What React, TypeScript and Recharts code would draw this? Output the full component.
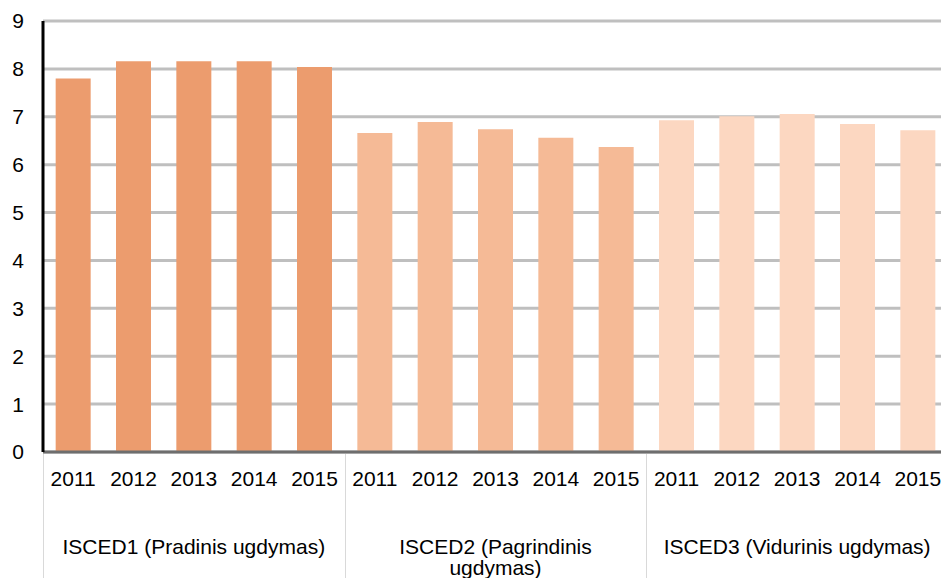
import { BarChart, Bar, XAxis, YAxis, CartesianGrid, Cell } from 'recharts';

const years = ['2011', '2012', '2013', '2014', '2015'];
const groups = ['ISCED1 (Pradinis ugdymas)', 'ISCED2 (Pagrindinis ugdymas)', 'ISCED3 (Vidurinis ugdymas)'];
const isced1 = [7.8, 8.16, 8.16, 8.16, 8.04];
const isced2 = [6.66, 6.89, 6.74, 6.56, 6.37];
const isced3 = [6.93, 7.01, 7.06, 6.85, 6.72];
const yTicks = [0, 1, 2, 3, 4, 5, 6, 7, 8, 9];
const groupColors = ['#EC9C6E', '#F5BA96', '#FCD7C1'];

const series = [isced1, isced2, isced3];
const data = groups.flatMap((g, gi) =>
  years.map((y, yi) => ({ year: y, group: g, gi, value: series[gi][yi] }))
);

const W = 948;
const H = 578;
const LEFT = 43;
const PLOT_W = W - LEFT;
const FONT = '"Liberation Sans", Arial, sans-serif';

// long labels break before the last word, like the original
const wrapLabel = (s: string) => {
  if (s.length <= 27) return [s];
  const i = s.lastIndexOf(' ');
  return [s.slice(0, i), s.slice(i + 1)];
};

const GroupTick = (props: any) => {
  const { x, y, payload } = props;
  const band = PLOT_W / groups.length;
  const sepX = Math.round(x - band / 2) + 0.5;
  const lines = wrapLabel(payload.value);
  return (
    <g>
      <line x1={sepX} x2={sepX} y1={y - 50} y2={H} stroke="#D9D9D9" strokeWidth={1} />
      <text x={x} y={y + 50} textAnchor="middle" fontSize={21} fill="#000" fontFamily={FONT}>
        {lines.map((l, i) => (
          <tspan key={i} x={x} dy={i === 0 ? 0 : 21}>
            {l}
          </tspan>
        ))}
      </text>
    </g>
  );
};

export default function App() {
  return (
    <div style={{ position: 'absolute', left: 0, top: 0, width: 941, height: H, overflow: 'hidden', background: '#fff' }}>
      <BarChart
        width={W}
        height={H}
        data={data}
        margin={{ top: 21, right: 0, left: 0, bottom: 0 }}
        barCategoryGap="21%"
        style={{ fontFamily: FONT }}
      >
        <CartesianGrid horizontal vertical={false} stroke="#BFBFBF" strokeWidth={3} />
        <XAxis
          dataKey="year"
          height={50}
          tickSize={0}
          tickMargin={19}
          interval={0}
          axisLine={{ stroke: '#6E6E6E', strokeWidth: 3 }}
          tick={{ fill: '#000', fontSize: 21, fontFamily: FONT }}
        />
        <XAxis
          xAxisId="grp"
          dataKey="group"
          allowDuplicatedCategory={false}
          height={76}
          axisLine={false}
          tickLine={false}
          tickSize={0}
          interval={0}
          tick={<GroupTick />}
        />
        <YAxis
          width={LEFT}
          domain={[0, 9]}
          ticks={yTicks}
          interval={0}
          tickSize={0}
          tickMargin={19}
          axisLine={{ stroke: '#000', strokeWidth: 3 }}
          tick={{ fill: '#000', fontSize: 21, fontFamily: FONT }}
        />
        <Bar dataKey="value" isAnimationActive={false}>
          {data.map((d, i) => (
            <Cell key={i} fill={groupColors[d.gi]} />
          ))}
        </Bar>
      </BarChart>
    </div>
  );
}
